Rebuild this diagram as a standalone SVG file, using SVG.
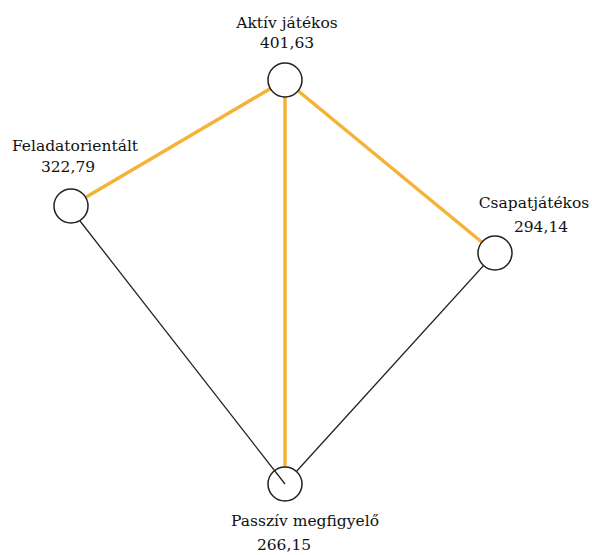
<svg xmlns="http://www.w3.org/2000/svg" width="592" height="555" viewBox="0 0 592 555">
<style>
.bg{fill:#ffffff}
.node circle{fill:#ffffff;stroke:#222222;stroke-width:1.5}
.lbl{font-family:"DejaVu Serif",serif;font-size:15.5px;fill:#111111;text-anchor:middle}
.hi{stroke:#F5B335;stroke-width:3.5;fill:none}
.lo{stroke:#222222;stroke-width:1.3;fill:none}
</style>
<rect class="bg" width="592" height="555"/>
<g id="connectors">
<line class="lo" x1="495" y1="253" x2="285" y2="484"/>
<line class="hi" x1="285" y1="80" x2="71" y2="206"/>
<line class="hi" x1="285" y1="80" x2="495" y2="253"/>
<line class="hi" x1="285" y1="80" x2="285" y2="484"/>
</g>
<g id="node-aktiv" class="node">
<circle cx="285" cy="80" r="17"/>
<text class="lbl" x="287" y="28">Aktív játékos</text>
<text class="lbl" x="287" y="48">401,63</text>
</g>
<g id="node-feladat" class="node">
<circle cx="71" cy="206" r="17"/>
<text class="lbl" x="75" y="151">Feladatorientált</text>
<text class="lbl" x="68" y="172">322,79</text>
</g>
<g id="node-csapat" class="node">
<circle cx="495" cy="253" r="17"/>
<text class="lbl" x="534" y="208">Csapatjátékos</text>
<text class="lbl" x="541" y="232">294,14</text>
</g>
<g id="node-passziv" class="node">
<circle cx="285" cy="484" r="17"/>
<text class="lbl" x="305" y="526">Passzív megfigyelő</text>
<text class="lbl" x="284" y="550">266,15</text>
</g>
<g id="connectors-top">
<line class="lo" x1="80" y1="221" x2="285" y2="484"/>
</g>
</svg>
